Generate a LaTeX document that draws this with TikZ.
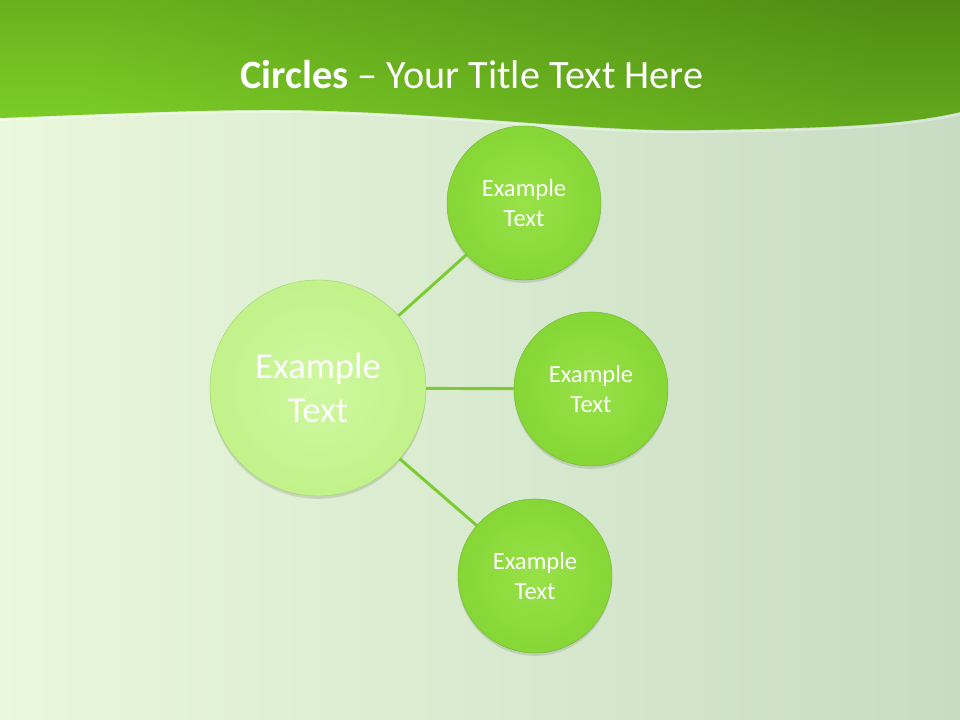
\documentclass[tikz,border=0pt]{standalone}
\usepackage{fontspec}
\setmainfont{Carlito}
\usetikzlibrary{shadows}

\definecolor{bgleft}{RGB}{234,248,220}
\definecolor{bgright}{RGB}{199,220,195}
\definecolor{bandlight}{RGB}{126,208,40}
\definecolor{banddark}{RGB}{80,140,20}
\definecolor{hubin}{RGB}{206,248,160}
\definecolor{hubout}{RGB}{194,242,138}
\definecolor{leafin}{RGB}{152,226,72}
\definecolor{leafout}{RGB}{134,214,54}
\definecolor{linkgreen}{RGB}{122,204,48}

\begin{document}
\begin{tikzpicture}[x=0.025cm, y=-0.025cm,
hub/.style={circle, inner sep=0pt, minimum size=5.4cm, draw=hubout!85!black, line width=.3pt,
  inner color=hubin, outer color=hubout, text=white, align=center,
  font=\fontsize{26}{31}\selectfont,
  drop shadow={shadow xshift=0pt, shadow yshift=-2pt, opacity=.25}},
leaf/.style={circle, inner sep=0pt, minimum size=3.85cm, draw=leafout!85!black, line width=.3pt,
  inner color=leafin, outer color=leafout, text=white, align=center,
  font=\fontsize{17.5}{21}\selectfont,
  drop shadow={shadow xshift=0pt, shadow yshift=-2pt, opacity=.25}},
link/.style={draw=linkgreen, line width=2.1pt}]

\useasboundingbox (0,0) rectangle (960,720);

%%%%%% HATTER %%%%%%%%%%

\shade[left color=bgleft, right color=bgright] (0,0) rectangle (960,720);

\shade[left color=bandlight, right color=banddark, shading angle=70]
  (0,0) -- (0,118) .. controls (150,112) and (250,108) .. (330,111)
  .. controls (480,116) and (600,132) .. (700,130)
  .. controls (820,128) and (900,126) .. (960,112) -- (960,0) -- cycle;
\shade[top color=banddark, bottom color=bandlight, opacity=.45]
  (0,0) -- (0,118) .. controls (150,112) and (250,108) .. (330,111)
  .. controls (480,116) and (600,132) .. (700,130)
  .. controls (820,128) and (900,126) .. (960,112) -- (960,0) -- cycle;
\draw[white, opacity=.35, line width=1.5pt]
  (0,120) .. controls (150,114) and (250,110) .. (330,113)
  .. controls (480,118) and (600,134) .. (700,132)
  .. controls (820,130) and (900,128) .. (960,114);

\node[text=white, font=\fontsize{28.6}{32}\selectfont] (title) at (472,75)
  {\textbf{Circles} – Your Title Text Here};

%%%%%% KOROK %%%%%%%%%%

\node[hub] (center) at (318,388) {Example\\Text};
\node[leaf] (top) at (524,203) {Example\\Text};
\node[leaf] (mid) at (591,389) {Example\\Text};
\node[leaf] (bottom) at (535,576) {Example\\Text};

\draw[link] (center) -- (top);
\draw[link] (center) -- (mid);
\draw[link] (center) -- (bottom);

\end{tikzpicture}
\end{document}
